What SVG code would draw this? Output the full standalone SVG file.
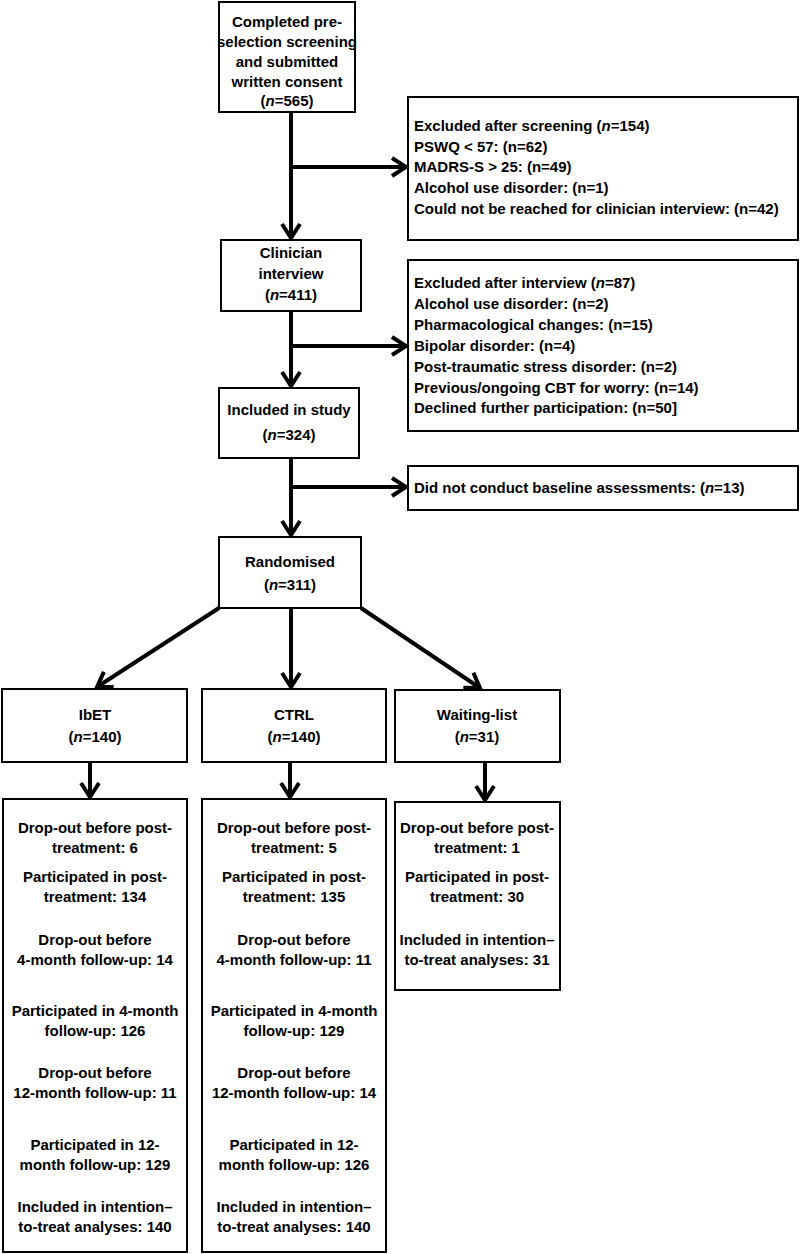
<svg xmlns="http://www.w3.org/2000/svg" width="800" height="1254" viewBox="0 0 800 1254">
<style>
.box{fill:#fff;stroke:#000;stroke-width:2}
.t{font-family:"Liberation Sans",Arial,sans-serif;font-weight:bold;font-size:15px;fill:#000}
.c{text-anchor:middle}
.conn{stroke:#000;stroke-width:4;fill:none}
.i{font-style:italic}
</style>
<defs>
<marker id="ah" markerUnits="userSpaceOnUse" markerWidth="30" markerHeight="30" viewBox="-20 -15 25 30" refX="0" refY="0" orient="auto" overflow="visible">
<path d="M-14,-9 L0,0 L-14,9" fill="none" stroke="#000" stroke-width="4" stroke-linejoin="miter"/>
</marker>
</defs>
<rect width="800" height="1254" fill="#fff"/>
<g id="connectors">
<line class="conn" x1="291" y1="112" x2="291" y2="238" marker-end="url(#ah)"/>
<line class="conn" x1="291" y1="167" x2="406" y2="167" marker-end="url(#ah)"/>
<line class="conn" x1="291" y1="311" x2="291" y2="386" marker-end="url(#ah)"/>
<line class="conn" x1="291" y1="346" x2="406" y2="346" marker-end="url(#ah)"/>
<line class="conn" x1="291" y1="458" x2="291" y2="535" marker-end="url(#ah)"/>
<line class="conn" x1="291" y1="487" x2="406" y2="487" marker-end="url(#ah)"/>
<line class="conn" x1="219" y1="608" x2="97" y2="687" marker-end="url(#ah)"/>
<line class="conn" x1="291" y1="608" x2="291" y2="687" marker-end="url(#ah)"/>
<line class="conn" x1="361" y1="608" x2="480" y2="688" marker-end="url(#ah)"/>
<line class="conn" x1="90" y1="762" x2="90" y2="797" marker-end="url(#ah)"/>
<line class="conn" x1="290" y1="762" x2="290" y2="797" marker-end="url(#ah)"/>
<line class="conn" x1="485" y1="762" x2="485" y2="800" marker-end="url(#ah)"/>
</g>
<g id="consent">
<rect class="box" x="219" y="2" width="136" height="110"/>
<text class="t c" x="287" y="27">Completed pre-</text>
<text class="t c" x="287" y="47">selection screening</text>
<text class="t c" x="287" y="67">and submitted</text>
<text class="t c" x="287" y="87">written consent</text>
<text class="t c" x="287" y="106">(<tspan class="i">n</tspan>=565)</text>
</g>
<g id="excluded-screening">
<rect class="box" x="408" y="97" width="390" height="143"/>
<text class="t" x="414" y="131">Excluded after screening (<tspan class="i">n</tspan>=154)</text>
<text class="t" x="414" y="152">PSWQ &lt; 57: (n=62)</text>
<text class="t" x="414" y="172">MADRS-S &gt; 25: (n=49)</text>
<text class="t" x="414" y="193">Alcohol use disorder: (n=1)</text>
<text class="t" x="414" y="214">Could not be reached for clinician interview: (n=42)</text>
</g>
<g id="clinician">
<rect class="box" x="221" y="240" width="140" height="71"/>
<text class="t c" x="291" y="258">Clinician</text>
<text class="t c" x="291" y="279">interview</text>
<text class="t c" x="291" y="300">(<tspan class="i">n</tspan>=411)</text>
</g>
<g id="excluded-interview">
<rect class="box" x="408" y="260" width="390" height="171"/>
<text class="t" x="414" y="288">Excluded after interview (<tspan class="i">n</tspan>=87)</text>
<text class="t" x="414" y="309">Alcohol use disorder: (n=2)</text>
<text class="t" x="414" y="330">Pharmacological changes: (n=15)</text>
<text class="t" x="414" y="351">Bipolar disorder: (n=4)</text>
<text class="t" x="414" y="372">Post-traumatic stress disorder: (n=2)</text>
<text class="t" x="414" y="393">Previous/ongoing CBT for worry: (n=14)</text>
<text class="t" x="414" y="413">Declined further participation: (n=50]</text>
</g>
<g id="included">
<rect class="box" x="219" y="388" width="140" height="70"/>
<text class="t c" x="289" y="415">Included in study</text>
<text class="t c" x="289" y="440">(<tspan class="i">n</tspan>=324)</text>
</g>
<g id="no-baseline">
<rect class="box" x="408" y="466" width="390" height="44"/>
<text class="t" x="414" y="493">Did not conduct baseline assessments: (<tspan class="i">n</tspan>=13)</text>
</g>
<g id="randomised">
<rect class="box" x="219" y="537" width="142" height="71"/>
<text class="t c" x="290" y="567">Randomised</text>
<text class="t c" x="290" y="590">(<tspan class="i">n</tspan>=311)</text>
</g>
<g id="ibet">
<rect class="box" x="2" y="689" width="185" height="73"/>
<text class="t c" x="95" y="720">IbET</text>
<text class="t c" x="95" y="742">(<tspan class="i">n</tspan>=140)</text>
</g>
<g id="ctrl">
<rect class="box" x="202" y="689" width="184" height="73"/>
<text class="t c" x="294" y="720">CTRL</text>
<text class="t c" x="294" y="742">(<tspan class="i">n</tspan>=140)</text>
</g>
<g id="waiting">
<rect class="box" x="395" y="690" width="165" height="72"/>
<text class="t c" x="477" y="720">Waiting-list</text>
<text class="t c" x="477" y="742">(<tspan class="i">n</tspan>=31)</text>
</g>
<g id="ibet-flow">
<rect class="box" x="3" y="799" width="184" height="453"/>
<text class="t c" x="95" y="833">Drop-out before post-</text>
<text class="t c" x="95" y="853">treatment: 6</text>
<text class="t c" x="95" y="882">Participated in post-</text>
<text class="t c" x="95" y="902">treatment: 134</text>
<text class="t c" x="95" y="945">Drop-out before</text>
<text class="t c" x="95" y="965">4-month follow-up: 14</text>
<text class="t c" x="95" y="1016">Participated in 4-month</text>
<text class="t c" x="95" y="1036">follow-up: 126</text>
<text class="t c" x="95" y="1078">Drop-out before</text>
<text class="t c" x="95" y="1098">12-month follow-up: 11</text>
<text class="t c" x="95" y="1150">Participated in 12-</text>
<text class="t c" x="95" y="1170">month follow-up: 129</text>
<text class="t c" x="95" y="1212">Included in intention–</text>
<text class="t c" x="95" y="1232">to-treat analyses: 140</text>
</g>
<g id="ctrl-flow">
<rect class="box" x="202" y="799" width="184" height="453"/>
<text class="t c" x="294" y="833">Drop-out before post-</text>
<text class="t c" x="294" y="853">treatment: 5</text>
<text class="t c" x="294" y="882">Participated in post-</text>
<text class="t c" x="294" y="902">treatment: 135</text>
<text class="t c" x="294" y="945">Drop-out before</text>
<text class="t c" x="294" y="965">4-month follow-up: 11</text>
<text class="t c" x="294" y="1016">Participated in 4-month</text>
<text class="t c" x="294" y="1036">follow-up: 129</text>
<text class="t c" x="294" y="1078">Drop-out before</text>
<text class="t c" x="294" y="1098">12-month follow-up: 14</text>
<text class="t c" x="294" y="1150">Participated in 12-</text>
<text class="t c" x="294" y="1170">month follow-up: 126</text>
<text class="t c" x="294" y="1212">Included in intention–</text>
<text class="t c" x="294" y="1232">to-treat analyses: 140</text>
</g>
<g id="waiting-flow">
<rect class="box" x="395" y="802" width="165" height="188"/>
<text class="t c" x="477" y="833">Drop-out before post-</text>
<text class="t c" x="477" y="853">treatment: 1</text>
<text class="t c" x="477" y="882">Participated in post-</text>
<text class="t c" x="477" y="902">treatment: 30</text>
<text class="t c" x="477" y="945">Included in intention–</text>
<text class="t c" x="477" y="965">to-treat analyses: 31</text>
</g>
</svg>
